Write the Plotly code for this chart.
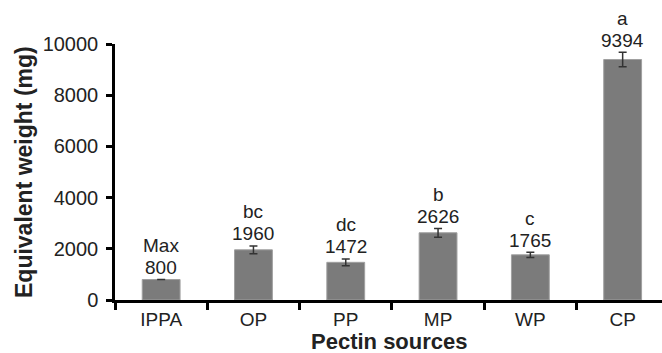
import plotly.graph_objects as go

categories = ["IPPA", "OP", "PP", "MP", "WP", "CP"]
values = [800, 1960, 1472, 2626, 1765, 9394]
errors = [None, 150, 130, 170, 100, 280]
letters = ["Max", "bc", "dc", "b", "c", "a"]
value_labels = ["800", "1960", "1472", "2626", "1765", "9394"]
y_ticks = [0, 2000, 4000, 6000, 8000, 10000]

W, H = 662, 353
ML, MR, MT, MB = 115, 0, 44, 53
plot_w = W - ML - MR
plot_h = H - MT - MB
cat_px = 92.3
x_max = -0.5 + plot_w / cat_px
positions = list(range(len(categories)))
boundaries = [p - 0.5 for p in positions]

fig = go.Figure()
fig.add_trace(go.Bar(
    x=positions, y=values,
    marker=dict(color="#7b7b7b", line=dict(color="#a0a0a0", width=1)),
    width=0.41,
    error_y=dict(type="data", array=errors, visible=True, color="#333333",
                 thickness=1.5, width=4),
    cliponaxis=False,
    showlegend=False,
))

font_fam = "Liberation Sans, Arial, sans-serif"
txt_col = "#222222"
for i, (v, e, l, t) in enumerate(zip(values, errors, letters, value_labels)):
    top = v + (e or 0)
    fig.add_annotation(x=i, y=top, xref="x", yref="y", text=t, showarrow=False,
                       yanchor="middle", yshift=12,
                       font=dict(family=font_fam, size=19, color=txt_col))
    fig.add_annotation(x=i, y=top, xref="x", yref="y", text=l, showarrow=False,
                       yanchor="middle", yshift=34,
                       font=dict(family=font_fam, size=19, color=txt_col))

fig.add_annotation(xref="paper", yref="paper", x=(24 - ML) / plot_w, y=0.5,
                   xanchor="center", yanchor="middle",
                   text="<b>Equivalent weight (mg)</b>", textangle=-90,
                   showarrow=False, font=dict(family=font_fam, size=23, color=txt_col))
fig.add_annotation(xref="paper", yref="paper", x=(389 - ML) / plot_w,
                   y=-(356 - (H - MB)) / plot_h, xanchor="center", yanchor="bottom",
                   text="<b>Pectin sources</b>", showarrow=False,
                   font=dict(family=font_fam, size=22, color=txt_col))

fig.update_layout(
    width=W, height=H,
    margin=dict(l=ML, r=MR, t=MT, b=MB, pad=0),
    plot_bgcolor="white", paper_bgcolor="white",
    font=dict(family=font_fam, size=20, color=txt_col),
    xaxis=dict(range=[-0.5, x_max], tickmode="array",
               tickvals=positions, ticktext=categories,
               showline=True, linecolor="black", linewidth=2.5,
               ticks="", ticklabelstandoff=0,
               minor=dict(tickmode="array", tickvals=boundaries, ticks="outside",
                          ticklen=7, tickwidth=2.5, tickcolor="black", showgrid=False),
               tickfont=dict(size=19),
               showgrid=False, zeroline=False),
    yaxis=dict(range=[0, 10000], tickvals=y_ticks,
               ticktext=[str(v) for v in y_ticks],
               showline=True, linecolor="black", linewidth=2.5,
               ticks="outside", ticklen=6, tickwidth=2.5, tickcolor="black",
               ticklabelstandoff=4,
               tickfont=dict(size=20),
               showgrid=False, zeroline=False),
)
fig.write_html("out.html")
